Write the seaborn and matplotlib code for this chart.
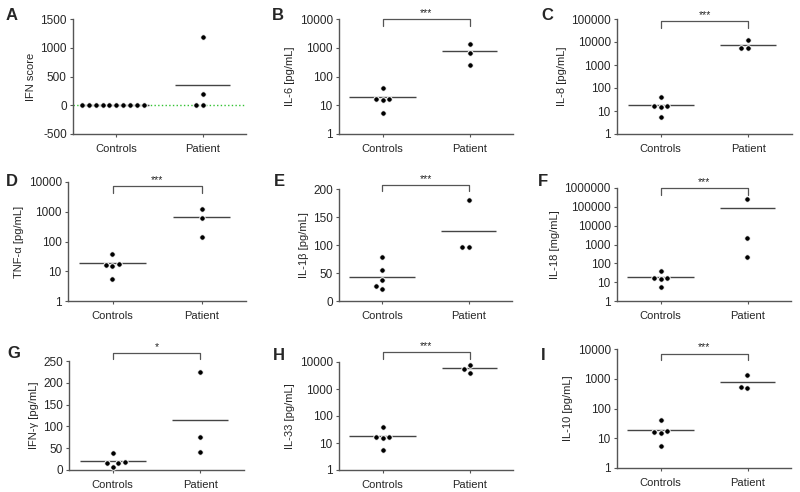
import numpy as np
import pandas as pd
import matplotlib.pyplot as plt
import matplotlib.ticker as mticker
import seaborn as sns

sns.set_style("ticks")
plt.rcParams['font.family'] = ['Liberation Sans', 'DejaVu Sans']

groups = ["Controls", "Patient"]

# values
ifn_controls = [0, 12, 2, 4, 0, 1, 3, -1, 0, 2]
ifn_patient = [1190, 190, 0, 10]
il6_controls = [40, 17, 15, 16.5, 5.5]
il6_patient = [1350, 660, 257]
il8_controls = [40, 17, 15, 16.5, 5.5]
il8_patient = [11750, 5500, 5500]
tnf_controls = [38, 17, 15, 16.5, 5.3]
tnf_patient = [1230, 600, 145]
il1b_controls = [78, 55, 37, 26, 22]
il1b_patient = [181, 96, 96]
il18_controls = [40, 17, 15, 16.5, 5.6]
il18_patient = [255000, 2300, 220]
ifng_controls = [40, 18, 16, 17, 7]
ifng_patient = [224, 75, 42]
il33_controls = [40, 17, 15, 16.5, 5.5]
il33_patient = [7900, 5500, 3900]
il10_controls = [40, 17, 15, 16.5, 5.3]
il10_patient = [1300, 530, 490]

log_ticks_4 = [1, 10, 100, 1000, 10000]
log_ticks_5 = [1, 10, 100, 1000, 10000, 100000]
log_ticks_6 = [1, 10, 100, 1000, 10000, 100000, 1000000]

# letter, ylabel, controls, patient, log?, yticks, stars
panels = [
    ("A", "IFN score", ifn_controls, ifn_patient, False, [-500, 0, 500, 1000, 1500], None),
    ("B", "IL-6 [pg/mL]", il6_controls, il6_patient, True, log_ticks_4, "***"),
    ("C", "IL-8 [pg/mL]", il8_controls, il8_patient, True, log_ticks_5, "***"),
    ("D", "TNF-α [pg/mL]", tnf_controls, tnf_patient, True, log_ticks_4, "***"),
    ("E", "IL-1β [pg/mL]", il1b_controls, il1b_patient, False, [0, 50, 100, 150, 200], "***"),
    ("F", "IL-18 [mg/mL]", il18_controls, il18_patient, True, log_ticks_6, "***"),
    ("G", "IFN-γ [pg/mL]", ifng_controls, ifng_patient, False, [0, 50, 100, 150, 200, 250], "*"),
    ("H", "IL-33 [pg/mL]", il33_controls, il33_patient, True, log_ticks_4, "***"),
    ("I", "IL-10 [pg/mL]", il10_controls, il10_patient, True, log_ticks_4, "***"),
]

# layout in pixels: axes (left, top, right, bottom), letter position, bracket height (axes frac)
axes_px = [(73, 19, 246, 134), (339, 19, 513, 134), (617, 19, 792, 134),
           (68, 182, 246, 301), (339, 189, 512, 301), (617, 188, 791, 301),
           (69, 361, 244, 470), (339, 362, 513, 470), (617, 349, 791, 468)]
letter_px = [(12, 15), (278, 15), (547, 15),
             (12, 182), (279, 182), (543, 181),
             (14, 354), (279, 355), (543, 355)]
bracket_y = [None, 1.0, 0.98, 0.965, 1.036, 1.0, 1.076, 1.09, 0.96]

W, H = 800, 492
fig = plt.figure(figsize=(8, 4.92), dpi=100)
gray = "#555555"

for i, (letter, ylab, ctrl, pat, logy, yt, stars) in enumerate(panels):
    l, t, r, b = axes_px[i]
    ax = fig.add_axes([l / W, 1 - b / H, (r - l) / W, (b - t) / H])
    df = pd.DataFrame({"group": ["Controls"] * len(ctrl) + ["Patient"] * len(pat),
                       "value": ctrl + pat})
    if logy:
        ax.set_yscale("log")
    ax.set_ylim(yt[0], yt[-1])
    if letter == "A":
        ax.axhline(0, color="#33c233", ls=":", lw=1, zorder=1)
    # white edge keeps the dots small but spaces the swarm like the original
    sns.swarmplot(data=df, x="group", y="value", order=groups, color="black",
                  size=4.0, linewidth=0.7, edgecolor="white", ax=ax, zorder=3)
    # mean lines
    halfw = [0.38, 0.32]
    for j, g in enumerate(groups):
        m = df.loc[df["group"] == g, "value"].mean()
        ax.hlines(m, j - halfw[j], j + halfw[j], color="#444444", lw=1, zorder=2)
    ax.set_xlim(-0.5, 1.5)
    ax.set_ylim(yt[0], yt[-1])
    ax.set_yticks(yt)
    ax.set_yticklabels([str(v) for v in yt])
    ax.yaxis.set_minor_locator(mticker.NullLocator())
    ax.set_xlabel("")
    ax.set_ylabel(ylab, fontsize=8, labelpad=3)
    ax.tick_params(labelsize=8, length=2.5, width=0.8, color=gray, pad=2)
    ax.tick_params(axis="y", labelsize=8.5)
    ax.tick_params(axis="x", pad=5)
    for s in ["top", "right"]:
        ax.spines[s].set_visible(False)
    for s in ["left", "bottom"]:
        ax.spines[s].set_color(gray)
        ax.spines[s].set_linewidth(1)
    # significance bracket
    if stars:
        yb = bracket_y[i]
        drop = 6.5 / (b - t)
        trans = ax.get_xaxis_transform()
        ax.plot([0, 0, 1, 1], [yb - drop, yb, yb, yb - drop], color=gray,
                lw=0.9, transform=trans, clip_on=False)
        ax.text(0.5, yb + 0.01, stars, transform=trans, ha="center", va="bottom",
                fontsize=7.5)
    lx, ly = letter_px[i]
    fig.text(lx / W, 1 - ly / H, letter, fontsize=12, fontweight="bold",
             ha="center", va="center")

fig.savefig("out.png", dpi=100)
